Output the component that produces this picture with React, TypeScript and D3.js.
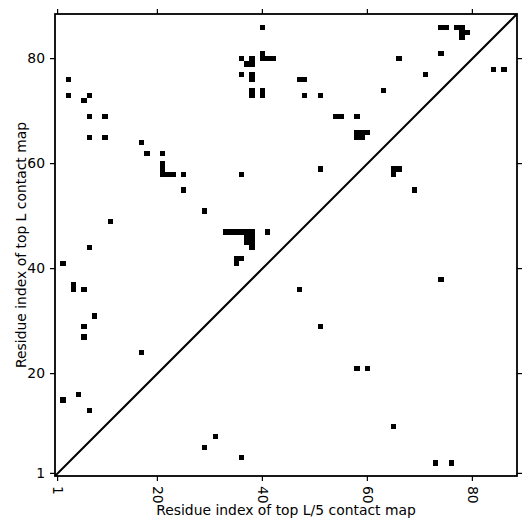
import React from 'react';
import * as d3 from 'd3';

// contacts above the diagonal: [i, j] with i < j
const upperContacts: [number, number][] = [
  [3, 76], [3, 73], [7, 73], [6, 72], [7, 69], [10, 69], [7, 65], [10, 65],
  [17, 64], [18, 62], [21, 62], [21, 60], [21, 59], [21, 58], [22, 58], [23, 58],
  [25, 58], [25, 55], [29, 51], [11, 49], [7, 44], [2, 41], [4, 37], [4, 36],
  [6, 36], [8, 31], [6, 29], [6, 27], [17, 24], [5, 16], [2, 15], [7, 13],
  [36, 58], [51, 59], [33, 47], [34, 47], [35, 47], [36, 47], [37, 47], [38, 47],
  [37, 46], [38, 46], [37, 45], [38, 45], [38, 44], [41, 47], [35, 42], [36, 42],
  [35, 41], [40, 86], [40, 81], [40, 80], [41, 80], [42, 80], [36, 80], [38, 80],
  [37, 79], [38, 79], [36, 77], [38, 77], [38, 76], [47, 76], [48, 76], [38, 74],
  [38, 73], [40, 74], [40, 73], [48, 73], [51, 73], [54, 69], [55, 69], [58, 69],
  [58, 66], [59, 66], [60, 66], [58, 65], [59, 65], [74, 86], [75, 86], [77, 86],
  [78, 86], [78, 85], [79, 85], [78, 84], [74, 81], [66, 80], [71, 77], [63, 74],
];

// contacts below the diagonal: [i, j] with i > j
const lowerContacts: [number, number][] = [
  [29, 6], [31, 8], [36, 4], [51, 29], [58, 21], [60, 21], [65, 10], [73, 3],
  [76, 3], [65, 59], [66, 59], [65, 58], [69, 55], [74, 38], [47, 36], [84, 78],
  [86, 78],
];

const seqLength = 88;
const tickValues = [1, 20, 40, 60, 80];
const xTitle = 'Residue index of top L/5 contact map';
const yTitle = 'Residue index of top L contact map';

const W = 531;
const H = 531;
const margin = { left: 55, right: 14, top: 14, bottom: 55 };
const font = 'DejaVu Sans, sans-serif';

const App: React.FC = () => {
  const x = d3.scaleLinear().domain([0.5, seqLength + 0.5]).range([margin.left, W - margin.right]);
  const y = d3.scaleLinear().domain([0.5, seqLength + 0.5]).range([H - margin.bottom, margin.top]);
  const [x0, x1] = x.range();
  const [y0, y1] = y.range();
  const tick = 5;

  const cells = upperContacts.concat(lowerContacts);

  return (
    <svg width={W} height={H} style={{ position: 'absolute', left: 0, top: 0, background: '#fff' }}>
      <g shapeRendering="crispEdges">
        {cells.map(([i, j], k) => (
          <rect
            key={k}
            x={x(i - 0.5)}
            y={y(j + 0.5)}
            width={x(i + 0.5) - x(i - 0.5)}
            height={y(j - 0.5) - y(j + 0.5)}
            fill="#000"
          />
        ))}
      </g>

      <line x1={x(0.5)} y1={y(0.5)} x2={x(seqLength + 0.5)} y2={y(seqLength + 0.5)} stroke="#000" strokeWidth={2} />

      {/* ticks on all four sides */}
      {tickValues.map((t) => (
        <g key={t} stroke="#000" strokeWidth={1.2}>
          <line x1={x(t)} x2={x(t)} y1={y0} y2={y0 + tick} />
          <line x1={x(t)} x2={x(t)} y1={y1} y2={y1 - tick} />
          <line x1={x0} x2={x0 - tick} y1={y(t)} y2={y(t)} />
          <line x1={x1} x2={x1 + tick} y1={y(t)} y2={y(t)} />
        </g>
      ))}

      {tickValues.map((t) => (
        <text
          key={'xl' + t}
          transform={`translate(${x(t)},${y0 + 10}) rotate(90)`}
          dy="0.35em"
          textAnchor="start"
          fontFamily={font}
          fontSize={13.9}
        >
          {t}
        </text>
      ))}
      {tickValues.map((t) => (
        <text
          key={'yl' + t}
          x={x0 - 10}
          y={y(t)}
          dy="0.35em"
          textAnchor="end"
          fontFamily={font}
          fontSize={13.9}
        >
          {t}
        </text>
      ))}

      <rect x={x0} y={y1} width={x1 - x0} height={y0 - y1} fill="none" stroke="#000" strokeWidth={1.8} />

      <text x={(x0 + x1) / 2} y={515} textAnchor="middle" fontFamily={font} fontSize={13.9}>
        {xTitle}
      </text>
      <text
        transform={`translate(26,${(y0 + y1) / 2}) rotate(-90)`}
        textAnchor="middle"
        fontFamily={font}
        fontSize={13.9}
      >
        {yTitle}
      </text>
    </svg>
  );
};

export default App;
